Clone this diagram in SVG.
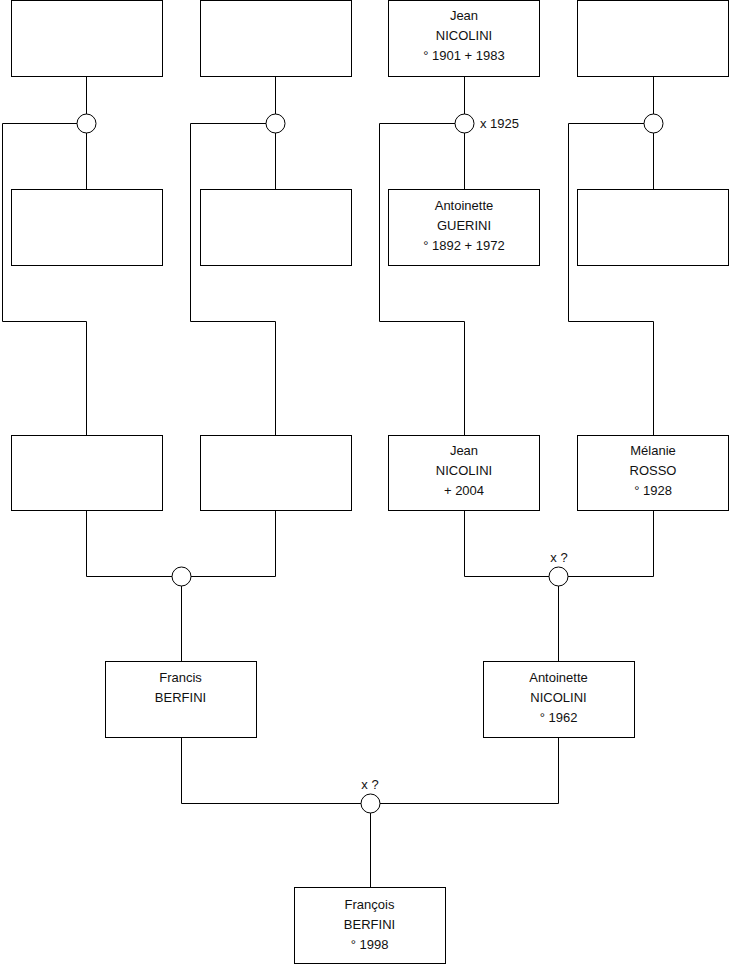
<svg xmlns="http://www.w3.org/2000/svg" width="740" height="975" viewBox="0 0 740 975">
<style>
.box{fill:#fff;stroke:#000;stroke-width:1}
.ln{fill:none;stroke:#000;stroke-width:1}
.knot{fill:#fff;stroke:#000;stroke-width:1}
text{font-family:"Liberation Sans",Arial,sans-serif;font-size:13px;fill:#111;text-anchor:middle}
.lbl{text-anchor:start}
</style>
<rect width="740" height="975" fill="#fff"/>
<g id="connectors">
<path class="ln" d="M86.5 76.5V189.5M77 123.5H2.5V321.5H86.5V435"/>
<path class="ln" d="M275.5 76.5V189.5M266 123.5H190.5V321.5H275.5V435"/>
<path class="ln" d="M464.5 76.5V189.5M455 123.5H379.5V321.5H464.5V435"/>
<path class="ln" d="M653.5 76.5V189.5M644 123.5H568.5V321.5H653.5V435"/>
<path class="ln" d="M86.5 510V576.5H275.5V510M181.5 576.5V661.5"/>
<path class="ln" d="M464.5 510V576.5H653.5V510M558.5 576.5V661.5"/>
<path class="ln" d="M181.5 737V803.5H558.5V737M370.5 803.5V887.5"/>
<circle class="knot" cx="86.5" cy="123.5" r="9.5"/>
<circle class="knot" cx="275.5" cy="123.5" r="9.5"/>
<circle class="knot" cx="464.5" cy="123.5" r="9.5"/>
<circle class="knot" cx="653.5" cy="123.5" r="9.5"/>
<circle class="knot" cx="181.5" cy="576.5" r="9.5"/>
<circle class="knot" cx="558.5" cy="576.5" r="9.5"/>
<circle class="knot" cx="370.5" cy="803.5" r="9.5"/>
<text class="lbl" x="480" y="128">x 1925</text>
<text x="559" y="562">x ?</text>
<text x="370" y="789">x ?</text>
</g>
<g id="n1"><rect class="box" x="11.5" y="0.5" width="151" height="76"/></g>
<g id="n2"><rect class="box" x="200.5" y="0.5" width="151" height="76"/></g>
<g id="n3"><rect class="box" x="388.5" y="0.5" width="151" height="76"/>
<text x="464" y="20">Jean</text><text x="464" y="40">NICOLINI</text><text x="464" y="60">° 1901 + 1983</text></g>
<g id="n4"><rect class="box" x="577.5" y="0.5" width="151" height="76"/></g>
<g id="n5"><rect class="box" x="11.5" y="189.5" width="151" height="76"/></g>
<g id="n6"><rect class="box" x="200.5" y="189.5" width="151" height="76"/></g>
<g id="n7"><rect class="box" x="388.5" y="189.5" width="151" height="76"/>
<text x="464" y="210">Antoinette</text><text x="464" y="230">GUERINI</text><text x="464" y="250">° 1892 + 1972</text></g>
<g id="n8"><rect class="box" x="577.5" y="189.5" width="151" height="76"/></g>
<g id="n9"><rect class="box" x="11.5" y="435.5" width="151" height="75"/></g>
<g id="n10"><rect class="box" x="200.5" y="435.5" width="151" height="75"/></g>
<g id="n11"><rect class="box" x="388.5" y="435.5" width="151" height="75"/>
<text x="464" y="455">Jean</text><text x="464" y="475">NICOLINI</text><text x="464" y="495">+ 2004</text></g>
<g id="n12"><rect class="box" x="577.5" y="435.5" width="151" height="75"/>
<text x="653" y="455">Mélanie</text><text x="653" y="475">ROSSO</text><text x="653" y="495">° 1928</text></g>
<g id="n13"><rect class="box" x="105.5" y="661.5" width="151" height="76"/>
<text x="180.5" y="682">Francis</text><text x="180.5" y="702">BERFINI</text></g>
<g id="n14"><rect class="box" x="483.5" y="661.5" width="151" height="76"/>
<text x="558.5" y="682">Antoinette</text><text x="558.5" y="702">NICOLINI</text><text x="558.5" y="722">° 1962</text></g>
<g id="n15"><rect class="box" x="294.5" y="887.5" width="151" height="76"/>
<text x="369.5" y="909">François</text><text x="369.5" y="929">BERFINI</text><text x="369.5" y="949">° 1998</text></g>
</svg>
